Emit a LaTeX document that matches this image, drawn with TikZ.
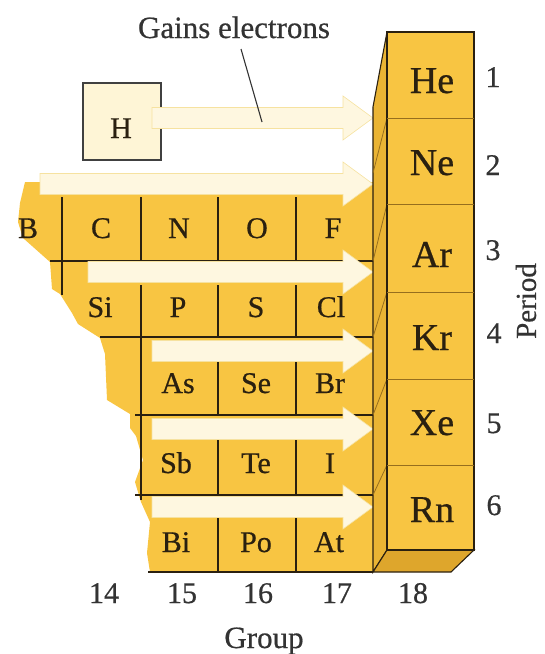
\documentclass[tikz,border=0pt]{standalone}
\usepackage{fontspec}
\setmainfont[FakeBold=0.6]{Liberation Serif}
\definecolor{gold}{RGB}{248,197,66}
\definecolor{goldside}{RGB}{234,180,52}
\definecolor{goldbot}{RGB}{222,166,44}
\definecolor{cream}{RGB}{254,247,224}
\definecolor{creamedge}{RGB}{246,226,160}
\definecolor{ink}{RGB}{42,32,16}
\definecolor{sepline}{RGB}{150,110,30}
\definecolor{hfill}{RGB}{254,245,214}
\newcommand\gainarrow[3]{%
  \filldraw[arrowband] (#2,#3-10.5) -- (343,#3-10.5) -- (343,#3-22) -- (373,#3)
    -- (343,#3+22) -- (343,#3+10.5) -- (#2,#3+10.5) -- cycle;
  \coordinate (#1) at (373,#3);}
\begin{document}
\begin{tikzpicture}[x=1pt,y=-1pt,
  gridline/.style={draw=ink,line width=1.2pt},
  arrowband/.style={fill=cream,draw=creamedge,line width=0.6pt},
  elem/.style={font=\fontsize{30}{30}\selectfont,anchor=base,inner sep=0pt,text=ink},
  nobel/.style={font=\fontsize{38}{38}\selectfont,anchor=base,inner sep=0pt,text=ink},
  lab/.style={font=\fontsize{30}{30}\selectfont,anchor=base,inner sep=0pt,text=black!80}]
\useasboundingbox (0,0) rectangle (545,654);

% yellow table background
\fill[gold] (25,182) -- (373,182) -- (373,572) -- (150,572) -- (147,553) -- (150,522)
  -- (141,502) -- (135,482) -- (143,460) -- (136,436) -- (130,428) -- (130,414)
  -- (107,400) -- (105,354) -- (100,338) -- (78,324) -- (72,313) -- (60,294)
  -- (52,289) -- (50,262) -- (23,238) -- (18,222) -- (20,203) -- cycle;

% grid lines
\draw[gridline] (62,197) -- (62,295);
\foreach \x in {141,218,296} \draw[gridline] (\x,197) -- (\x,261);
\draw[gridline] (50,261) -- (373,261);
\draw[gridline] (141,285) -- (141,500);
\foreach \x in {218,296} {
  \draw[gridline] (\x,285) -- (\x,337);
  \draw[gridline] (\x,362) -- (\x,415);
  \draw[gridline] (\x,440) -- (\x,495);
  \draw[gridline] (\x,518) -- (\x,572);}
\draw[gridline] (100,337) -- (373,337);
\draw[gridline] (135,415) -- (373,415);
\draw[gridline] (135,495) -- (373,495);
\draw[gridline] (148,572) -- (373,572);

% H box
\node[draw=black!75,line width=1.2pt,fill=hfill,minimum width=78pt,minimum height=77pt,
  inner sep=0pt] (hbox) at (122,121.5) {};
\node[elem] (H) at (121,138) {H};

% arrows
\gainarrow{a1}{152}{118}
\gainarrow{a2}{40}{184}
\gainarrow{a3}{88}{272}
\gainarrow{a4}{152}{351}
\gainarrow{a5}{152}{429}
\gainarrow{a6}{152}{507}

% elements
\node[elem] (B) at (28,238) {B};
\node[elem] (C) at (101,238) {C};
\node[elem] (N) at (179,238) {N};
\node[elem] (O) at (257,238) {O};
\node[elem] (F) at (333,238) {F};
\node[elem] (Si) at (100,317) {Si};
\node[elem] (P) at (178,317) {P};
\node[elem] (S) at (256,317) {S};
\node[elem] (Cl) at (331,317) {Cl};
\node[elem] (As) at (178,393) {As};
\node[elem] (Se) at (256,393) {Se};
\node[elem] (Br) at (330,393) {Br};
\node[elem] (Sb) at (176,473) {Sb};
\node[elem] (Te) at (256,473) {Te};
\node[elem] (I) at (330,473) {I};
\node[elem] (Bi) at (176,552) {Bi};
\node[elem] (Po) at (256,552) {Po};
\node[elem] (At) at (329,552) {At};

% group 18 column (3D)
\filldraw[fill=goldside,draw=ink,line width=1.1pt] (373,107) -- (387,32) -- (387,550) -- (373,572) -- cycle;
\filldraw[fill=goldbot,draw=ink,line width=1.1pt] (373,572) -- (387,550) -- (474,550) -- (451,572) -- cycle;
\foreach \ya/\yb in {118/173,204/261,292/337,379/415,465/495}
  \draw[sepline,line width=0.8pt] (387,\ya) -- (373,\yb);
\filldraw[fill=gold,draw=ink,line width=1.2pt] (387,32) rectangle (474,550);
\foreach \y in {118,204,292,379,465}
  \draw[sepline,line width=1pt] (387,\y) -- (474,\y);
\node[nobel] (He) at (432,93) {He};
\node[nobel] (Ne) at (432,175) {Ne};
\node[nobel] (Ar) at (432,267) {Ar};
\node[nobel] (Kr) at (432,350) {Kr};
\node[nobel] (Xe) at (432,435) {Xe};
\node[nobel] (Rn) at (432,522) {Rn};

% period labels
\node[lab] (p1) at (493,87) {1};
\node[lab] (p2) at (493,175) {2};
\node[lab] (p3) at (493,260) {3};
\node[lab] (p4) at (494,343) {4};
\node[lab] (p5) at (494,433) {5};
\node[lab] (p6) at (494,515) {6};
\node[lab,anchor=center,rotate=90,font=\fontsize{29}{29}\selectfont] (period) at (526,301) {Period};

% group labels
\node[lab] (g14) at (104,603) {14};
\node[lab] (g15) at (182,603) {15};
\node[lab] (g16) at (258,603) {16};
\node[lab] (g17) at (337,603) {17};
\node[lab] (g18) at (413,603) {18};
\node[lab,font=\fontsize{31}{31}\selectfont] (group) at (264,648) {Group};

% gains electrons label
\node[lab,font=\fontsize{31}{31}\selectfont] (gains) at (234,38) {Gains electrons};
\coordinate (ptr) at (262,122);
\draw[black!80,line width=1.1pt] (241,49) -- (ptr);
\end{tikzpicture}
\end{document}
